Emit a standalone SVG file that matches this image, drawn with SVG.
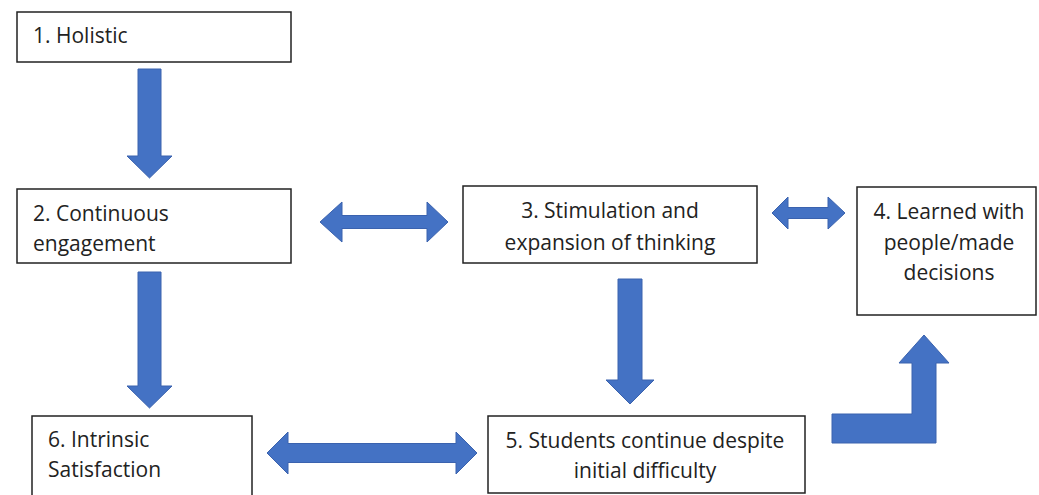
<svg xmlns="http://www.w3.org/2000/svg" width="1039" height="495" viewBox="0 0 1039 495">
<style>
.box{fill:#fff;stroke:#222;stroke-width:1.5}
.t{font-family:"Open Sans","Liberation Sans",sans-serif;font-size:21px;fill:#222}
.c{text-anchor:middle}
.arr{fill:#4472C4;stroke:#3A62AE;stroke-width:1}
</style>
<rect width="1039" height="495" fill="#fff"/>
<g id="connectors">
<path class="arr" d="M138,69 H161 V156 H172 L149.5,178 L127,156 H138 Z"/>
<path class="arr" d="M138,272 H161 V386 H172 L149.5,408 L127,386 H138 Z"/>
<path class="arr" d="M618,279 H642 V380 H654 L630,404 L606,380 H618 Z"/>
<path class="arr" d="M320,222 L342,202 V215.5 H427 V202 L448,222 L427,242 V228.5 H342 V242 Z"/>
<path class="arr" d="M772,213 L788,197 V207.5 H828 V197 L845,213 L828,229 V218.5 H788 V229 Z"/>
<path class="arr" d="M267,453 L288,432 V443.5 H456 V432 L477,453 L456,474 V462.5 H288 V474 Z"/>
<path class="arr" d="M832,414 H912 V363 H899 L924,335 L949,363 H936 V443 H832 Z"/>
</g>
<g id="n1"><rect class="box" x="17" y="12" width="274" height="50"/><text class="t" x="33" y="43">1. Holistic</text></g>
<g id="n2"><rect class="box" x="17" y="189" width="274" height="74"/><text class="t" x="33" y="221">2. Continuous</text><text class="t" x="33" y="251">engagement</text></g>
<g id="n3"><rect class="box" x="463" y="186" width="294" height="77"/><text class="t c" x="610" y="218">3. Stimulation and</text><text class="t c" x="610" y="250">expansion of thinking</text></g>
<g id="n4"><rect class="box" x="857" y="187" width="179" height="128"/><text class="t c" x="949" y="219">4. Learned with</text><text class="t c" x="949" y="250">people/made</text><text class="t c" x="949" y="280">decisions</text></g>
<g id="n5"><rect class="box" x="488" y="416" width="317" height="77"/><text class="t c" x="645" y="448">5. Students continue despite</text><text class="t c" x="645" y="478">initial difficulty</text></g>
<g id="n6"><rect class="box" x="32" y="416" width="220" height="90"/><text class="t" x="48" y="447">6. Intrinsic</text><text class="t" x="48" y="477">Satisfaction</text></g>
</svg>
